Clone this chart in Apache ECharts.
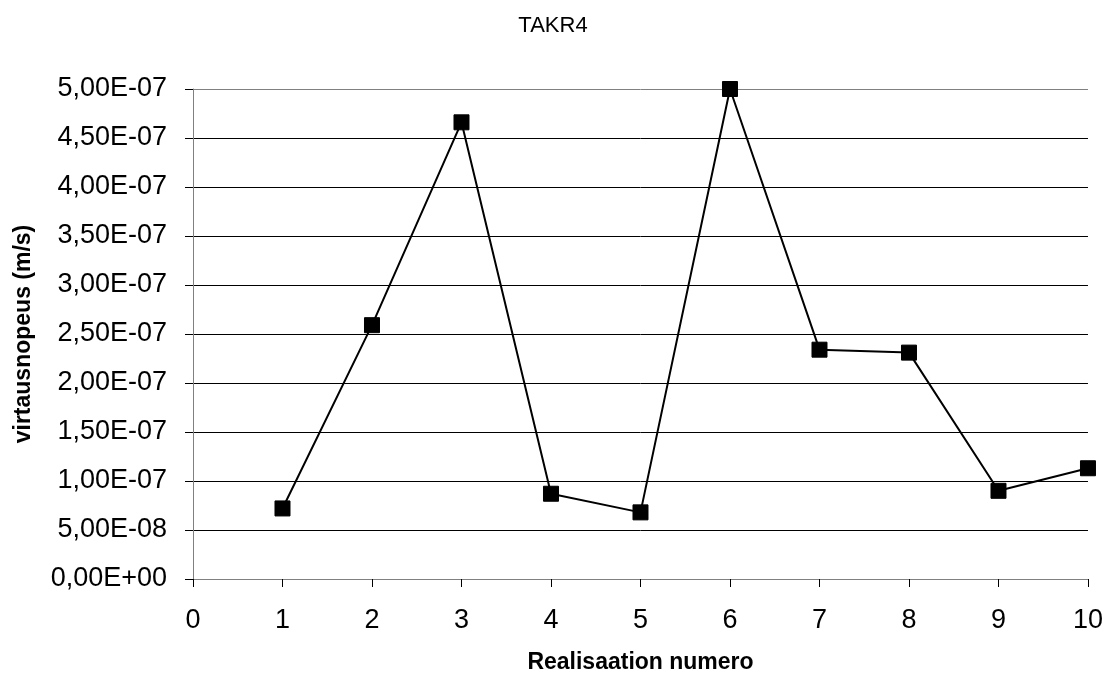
<!DOCTYPE html>
<html>
<head>
<meta charset="utf-8">
<title>TAKR4</title>
<script src="https://cdn.jsdelivr.net/npm/echarts@6/dist/echarts.min.js"></script>
<style>
  html, body { margin: 0; padding: 0; background: #fff; }
  #chart { width: 1106px; height: 679px; }
</style>
</head>
<body>
<div id="chart"></div>
<script>
// Realisation numbers and the measured flow velocities (m/s)
const realisations = [1, 2, 3, 4, 5, 6, 7, 8, 9, 10];
const velocities = [7.2e-8, 2.59e-7, 4.66e-7, 8.7e-8, 6.8e-8, 5.0e-7, 2.34e-7, 2.31e-7, 9.0e-8, 1.13e-7];

// Axis ranges
const xMin = 0, xMax = 10, xStep = 1;
const yMin = 0, yMax = 5e-7, yStep = 5e-8;

// Scientific notation with a decimal comma, e.g. 5,00E-07
function sciComma(v) {
  if (Math.abs(v) < 1e-20) return '0,00E+00';
  const parts = v.toExponential(2).split('e');
  const mant = parts[0].replace('.', ',');
  const e = parseInt(parts[1], 10);
  const sign = e < 0 ? '-' : '+';
  const ea = Math.abs(e);
  return mant + 'E' + sign + (ea < 10 ? '0' + ea : String(ea));
}

// Horizontal gridlines are black; the topmost one is the grey plot border
const gridCount = Math.round((yMax - yMin) / yStep) + 1;
const gridColors = Array.from({ length: gridCount }, (_, i) => (i === gridCount - 1 ? '#808080' : '#000000'));

const chart = echarts.init(document.getElementById('chart'), null, { renderer: 'canvas' });

chart.setOption({
  animation: false,
  backgroundColor: '#ffffff',
  textStyle: { fontFamily: 'Liberation Sans, Arial, sans-serif' },
  title: {
    text: 'TAKR4',
    left: 'center',
    top: 10,
    textStyle: { fontSize: 22, fontWeight: 'normal', color: '#000' }
  },
  grid: { left: 193, right: 16, top: 89, bottom: 95 },
  xAxis: {
    type: 'value',
    min: xMin, max: xMax, interval: xStep,
    name: 'Realisaation numero',
    nameLocation: 'middle',
    nameGap: 72,
    nameTextStyle: { fontSize: 23, fontWeight: 'bold', color: '#000' },
    axisLine: { show: true, lineStyle: { color: '#808080', width: 1 } },
    axisTick: { show: true, length: 8, inside: false, lineStyle: { color: '#000' } },
    axisLabel: { fontSize: 27, color: '#000', margin: 28 },
    splitLine: { show: false }
  },
  yAxis: {
    type: 'value',
    min: yMin, max: yMax, interval: yStep,
    name: 'virtausnopeus (m/s)',
    nameLocation: 'middle',
    nameGap: 158,
    nameTextStyle: { fontSize: 23, fontWeight: 'bold', color: '#000' },
    axisLine: { show: true, lineStyle: { color: '#808080', width: 1 } },
    axisTick: { show: true, length: 8, inside: false, lineStyle: { color: '#000' } },
    axisLabel: { fontSize: 27, color: '#000', margin: 26, formatter: sciComma },
    splitLine: { show: true, lineStyle: { color: gridColors, width: 1 } }
  },
  series: [{
    type: 'line',
    data: realisations.map((r, i) => [r, velocities[i]]),
    symbol: 'rect',
    symbolSize: 15,
    showAllSymbol: true,
    clip: false,
    lineStyle: { color: '#000', width: 2 },
    itemStyle: { color: '#000', borderColor: '#000', borderWidth: 1 }
  }]
});
</script>
</body>
</html>
